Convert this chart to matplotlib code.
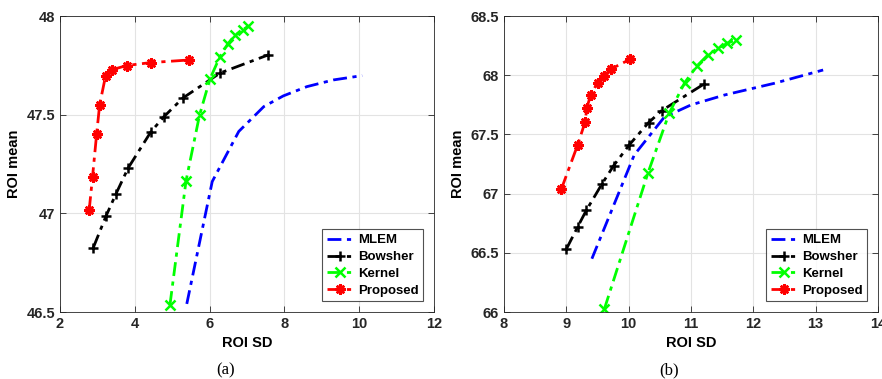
import matplotlib
matplotlib.use('Agg')
import matplotlib.pyplot as plt

# --- data: (a) ---
a_mlem_x = [5.39, 6.07, 6.78, 7.45, 7.97, 8.60, 9.31, 10.08]
a_mlem_y = [46.541, 47.161, 47.415, 47.541, 47.595, 47.642, 47.676, 47.698]
a_bow_x = [2.89, 3.23, 3.49, 3.82, 4.43, 4.78, 5.29, 6.28, 7.57]
a_bow_y = [46.826, 46.986, 47.096, 47.229, 47.413, 47.490, 47.585, 47.711, 47.803]
a_ker_x = [4.94, 5.37, 5.73, 6.01, 6.27, 6.49, 6.69, 6.88, 7.04]
a_ker_y = [46.536, 47.165, 47.497, 47.681, 47.792, 47.860, 47.904, 47.929, 47.949]
a_pro_x = [2.78, 2.87, 2.98, 3.06, 3.22, 3.40, 3.78, 4.43, 5.44]
a_pro_y = [47.016, 47.185, 47.403, 47.550, 47.698, 47.728, 47.749, 47.764, 47.777]

# --- (b) ---
b_mlem_x = [9.41, 10.09, 10.57, 11.00, 11.54, 12.34, 13.12]
b_mlem_y = [66.45, 67.327, 67.645, 67.749, 67.833, 67.932, 68.044]
b_bow_x = [9.00, 9.18, 9.32, 9.57, 9.76, 10.01, 10.32, 10.53, 11.21]
b_bow_y = [66.531, 66.717, 66.858, 67.080, 67.237, 67.412, 67.600, 67.701, 67.926]
b_ker_x = [9.61, 10.31, 10.65, 10.90, 11.10, 11.27, 11.43, 11.58, 11.72]
b_ker_y = [66.025, 67.175, 67.679, 67.938, 68.081, 68.171, 68.227, 68.269, 68.298]
b_pro_x = [8.92, 9.18, 9.30, 9.33, 9.39, 9.50, 9.60, 9.72, 10.02]
b_pro_y = [67.038, 67.409, 67.603, 67.727, 67.831, 67.938, 67.994, 68.053, 68.134]

plt.rcParams['font.family'] = ['Liberation Sans', 'DejaVu Sans']
plt.rcParams['font.weight'] = 'bold'

W, H = 882, 379
fig = plt.figure(figsize=(W / 100, H / 100), dpi=100, facecolor="white")

ASTER = (8, 2, 0)


def panel(rect, series, xlim, xticks, ylim, yticks, yticklabels):
    l, t, r, b = rect
    ax = fig.add_axes([l / W, 1 - b / H, (r - l) / W, (b - t) / H])
    styles = [("MLEM", "#0000ff", None),
              ("Bowsher", "#000000", "+"),
              ("Kernel", "#00ff00", "x"),
              ("Proposed", "#ff0000", ASTER)]
    for (name, col, mk), (xs, ys) in zip(styles, series):
        ax.plot(xs, ys, color=col, linestyle=(0, (5, 2, 1.5, 2)), linewidth=2,
                marker=mk, markersize=7.5, markeredgewidth=1.8, label=name)
    ax.set_xlim(*xlim)
    ax.set_ylim(*ylim)
    ax.set_xticks(xticks)
    ax.set_yticks(yticks)
    ax.set_yticklabels(yticklabels)
    ax.grid(True, color="#e3e3e3", linewidth=0.8)
    ax.set_axisbelow(True)
    ax.tick_params(direction="in", top=True, right=True, length=4,
                   labelsize=10.5, colors="#262626", width=0.6)
    for s in ax.spines.values():
        s.set_color("#262626")
        s.set_linewidth(0.6)
    ax.set_xlabel("ROI SD", fontsize=10.5, fontweight="bold", labelpad=4)
    ax.set_ylabel("ROI mean", fontsize=10.5, fontweight="bold", labelpad=4)
    leg = ax.legend(loc="lower right", fontsize=9.5, frameon=True,
                    fancybox=False, edgecolor="#262626", handlelength=2.1,
                    handletextpad=0.3, borderpad=0.35, labelspacing=0.35,
                    borderaxespad=0.8)
    leg.get_frame().set_linewidth(0.8)
    for tx in leg.get_texts():
        tx.set_fontweight("bold")
    return ax


panel((60, 16, 434, 312),
      [(a_mlem_x, a_mlem_y), (a_bow_x, a_bow_y), (a_ker_x, a_ker_y), (a_pro_x, a_pro_y)],
      (2, 12), [2, 4, 6, 8, 10, 12], (46.5, 48), [46.5, 47, 47.5, 48],
      ["46.5", "47", "47.5", "48"])

panel((504, 16, 878, 312),
      [(b_mlem_x, b_mlem_y), (b_bow_x, b_bow_y), (b_ker_x, b_ker_y), (b_pro_x, b_pro_y)],
      (8, 14), [8, 9, 10, 11, 12, 13, 14], (66, 68.5), [66, 66.5, 67, 67.5, 68, 68.5],
      ["66", "66.5", "67", "67.5", "68", "68.5"])

fig.text(226 / W, 1 - 370 / H, "(a)", ha="center", va="center",
         family="Liberation Serif", fontweight="normal", fontsize=12)
fig.text(669 / W, 1 - 370 / H, "(b)", ha="center", va="center",
         family="Liberation Serif", fontweight="normal", fontsize=12)

fig.savefig("out.png", dpi=100, facecolor="white")
